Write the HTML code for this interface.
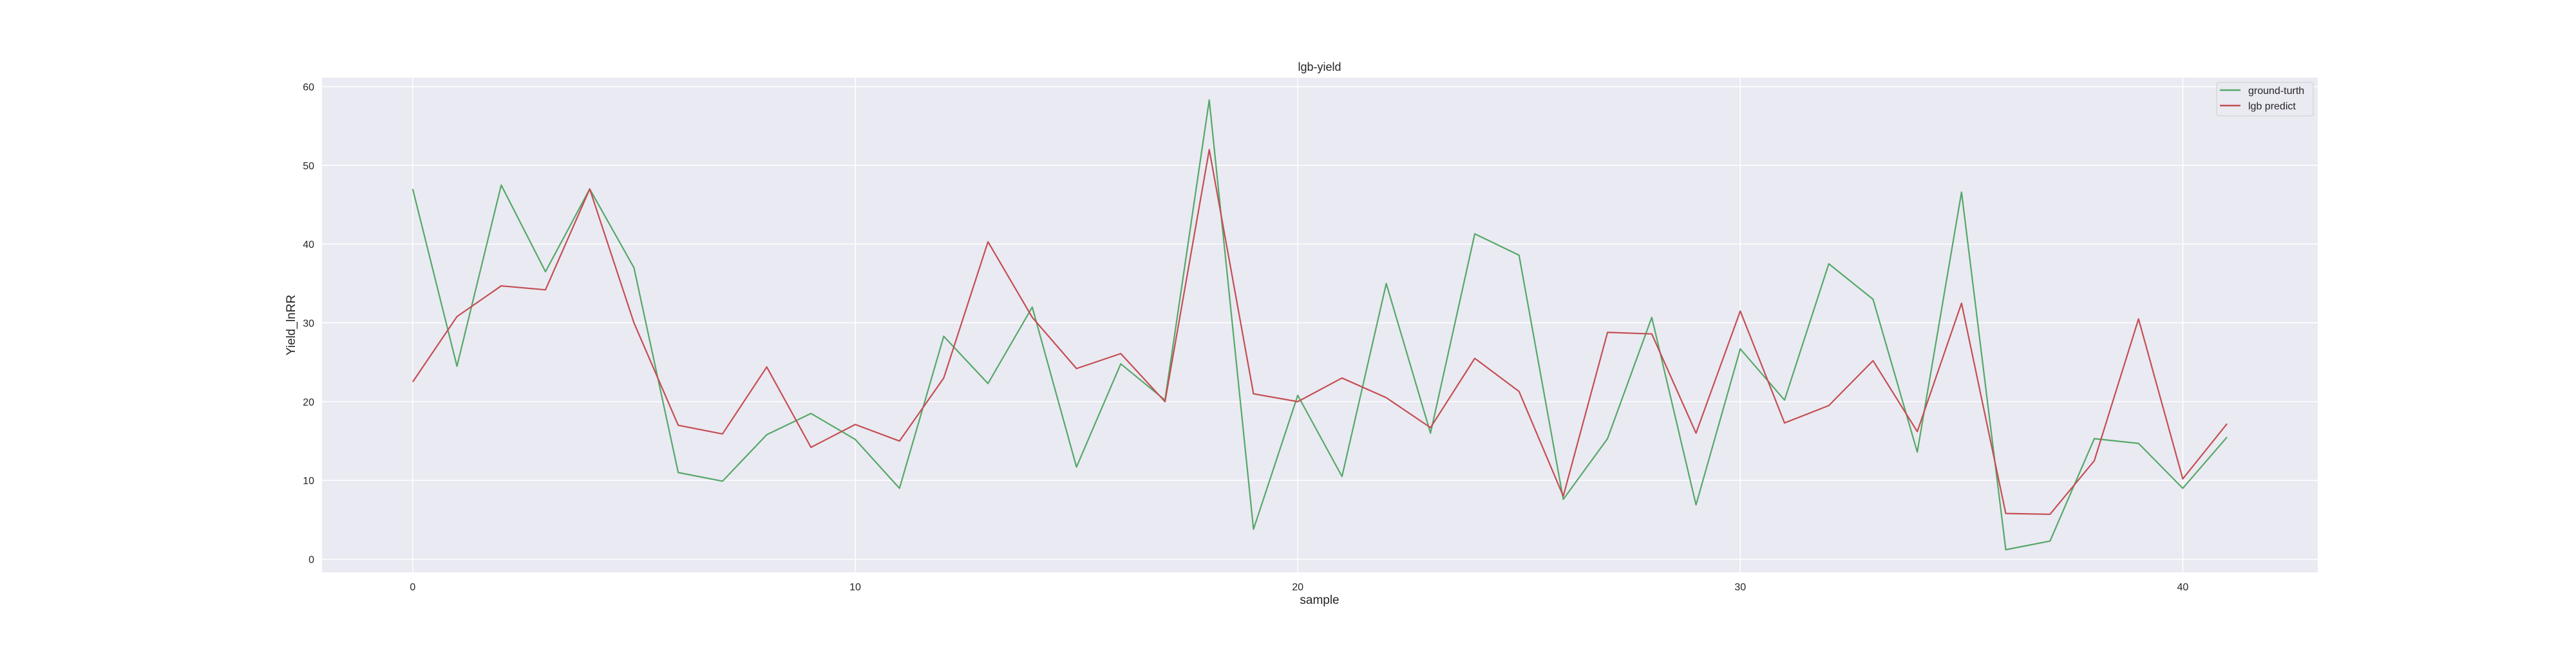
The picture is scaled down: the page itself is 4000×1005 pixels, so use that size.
<!DOCTYPE html>
<html><head><meta charset="utf-8"><style>
body{margin:0;background:#fff;}
svg text{font-family:"Liberation Sans",sans-serif;fill:#262626;}
</style></head><body>
<svg id="chart" width="4000" height="1000" xmlns="http://www.w3.org/2000/svg">
<rect x="500" y="120.7" width="3099" height="768.3" fill="#eaeaf2"/>
<g id="grid"></g>
<g id="series"></g>
<text x="2049" y="110" font-size="18" text-anchor="middle">lgb-yield</text>
<text x="2049" y="938" font-size="19" text-anchor="middle">sample</text>
<text transform="translate(458,505) rotate(-90)" font-size="19" text-anchor="middle">Yield_lnRR</text>
<g>
<rect x="3442" y="128" width="150" height="52" rx="3" fill="#eaeaf2" stroke="#cccccc" stroke-width="1"/>
<line x1="3447" y1="140" x2="3479" y2="140" stroke="#55a868" stroke-width="2.5"/>
<text x="3491" y="146" font-size="16">ground-turth</text>
<line x1="3447" y1="164" x2="3479" y2="164" stroke="#c44e52" stroke-width="2.5"/>
<text x="3491" y="170" font-size="16">lgb predict</text>
</g>
</svg>
<script>
const samples = [0,1,2,3,4,5,6,7,8,9,10,11,12,13,14,15,16,17,18,19,20,21,22,23,24,25,26,27,28,29,30,31,32,33,34,35,36,37,38,39,40,41];
const groundTruth = [47,24.5,47.5,36.5,47,37,11,9.9,15.8,18.5,15.2,9,28.3,22.3,32,11.7,24.8,20.2,58.3,3.8,20.8,10.5,35,16,41.3,38.6,7.6,15.3,30.7,6.9,26.7,20.2,37.5,33,13.6,46.6,1.2,2.3,15.3,14.7,9,15.5];
const lgbPredict = [22.5,30.8,34.7,34.2,47,30,17,15.9,24.4,14.2,17.1,15,23,40.3,30.7,24.2,26.1,20,52,21,20,23,20.5,16.7,25.5,21.3,8,28.8,28.6,16,31.5,17.3,19.5,25.2,16.2,32.5,5.8,5.7,12.5,30.5,10.2,17.2];
const xTicks = [0,10,20,30,40];
const yTicks = [0,10,20,30,40,50,60];

const NS="http://www.w3.org/2000/svg";
const L=500,R=3599,T=120.7,B=889;
const xmin=-2.05,xmax=43.05,ymin=-1.67,ymax=61.13;
function xs(v){return L+(v-xmin)/(xmax-xmin)*(R-L);}
function ys(v){return B-(v-ymin)/(ymax-ymin)*(B-T);}
function mk(tag,attrs,parent){const e=document.createElementNS(NS,tag);for(const k in attrs)e.setAttribute(k,attrs[k]);parent.appendChild(e);return e;}
const grid=document.getElementById('grid');
const svg=document.getElementById('chart');
xTicks.forEach(t=>{
  const l=mk('line',{x1:xs(t),x2:xs(t),y1:T,y2:B,stroke:'#fff','stroke-width':1.5},grid);
  
  
  const tx=mk('text',{x:xs(t),y:B+28,'font-size':16,'text-anchor':'middle'},svg);
  tx.textContent=t;
  
  
});
yTicks.forEach(t=>{
  const l=mk('line',{x1:L,x2:R,y1:ys(t),y2:ys(t),stroke:'#fff','stroke-width':1.5},grid);
  
  
  const tx=mk('text',{x:L-12,y:ys(t)+6,'font-size':16,'text-anchor':'end'},svg);
  tx.textContent=t;
  
  
});
const ser=document.getElementById('series');
function line(vals,color,name){
  const p=mk('polyline',{points:vals.map((v,i)=>xs(samples[i])+','+ys(v)).join(' '),fill:'none',stroke:color,'stroke-width':2.2,'stroke-linejoin':'round'},ser);
  
  
}
line(groundTruth,'#55a868','ground-truth-line');
line(lgbPredict,'#c44e52','lgb-predict-line');
</script>
</body></html>
